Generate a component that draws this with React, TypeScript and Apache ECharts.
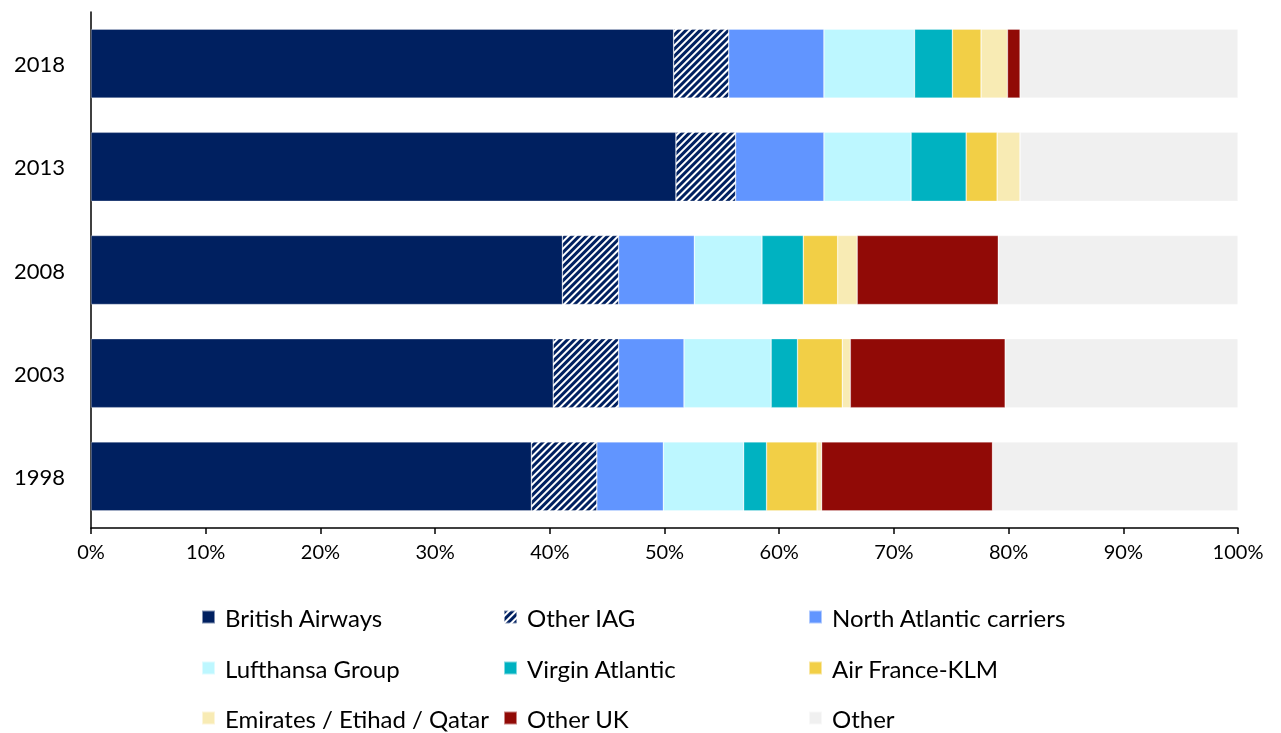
import React, { useEffect, useRef } from "react";
import * as echarts from "echarts";

const years = ["1998", "2003", "2008", "2013", "2018"];
const seriesNames = [
  "British Airways",
  "Other IAG",
  "North Atlantic carriers",
  "Lufthansa Group",
  "Virgin Atlantic",
  "Air France-KLM",
  "Emirates / Etihad / Qatar",
  "Other UK",
  "Other",
];
const britishAirways = [38.4, 40.3, 41.1, 51.0, 50.8];
const otherIAG = [5.7, 5.7, 4.9, 5.2, 4.8];
const northAtlantic = [5.8, 5.7, 6.6, 7.7, 8.3];
const lufthansa = [7.0, 7.6, 5.9, 7.6, 7.9];
const virgin = [2.0, 2.3, 3.6, 4.8, 3.3];
const airFrance = [4.4, 3.9, 3.0, 2.7, 2.5];
const gulf = [0.4, 0.7, 1.7, 2.0, 2.3];
const otherUK = [14.9, 13.5, 12.3, 0, 1.1];
const other = [21.4, 20.3, 20.9, 19.0, 19.0];

const colors = [
  "#002060",
  "#ffffff",
  "#6195FF",
  "#BDF7FF",
  "#00B2C1",
  "#F2CF46",
  "#F8EBB4",
  "#910A06",
  "#F0F0F0",
];

const FONT = "Lato, 'Open Sans', sans-serif";

export default function App() {
  const ref = useRef<HTMLDivElement>(null);
  useEffect(() => {
    if (!ref.current) return;
    const chart = echarts.init(ref.current, undefined, { renderer: "svg" });
    const values = [
      britishAirways,
      otherIAG,
      northAtlantic,
      lufthansa,
      virgin,
      airFrance,
      gulf,
      otherUK,
      other,
    ];
    const series = seriesNames.map((name, i) => ({
      name,
      type: "bar",
      stack: "total",
      barWidth: 69,
      data: values[i],
      itemStyle:
        i === 1
          ? {
              color: "#ffffff",
              borderColor: "rgba(255,255,255,0.5)",
              borderWidth: 0.6,
              decal: {
                symbol: "rect",
                symbolSize: 1,
                dashArrayX: [1, 0],
                dashArrayY: [2.4, 1.8],
                rotation: -Math.PI / 4,
                color: "#002060",
              },
            }
          : {
              color: colors[i],
              borderColor: "rgba(255,255,255,0.5)",
              borderWidth: 0.6,
            },
    }));
    const colLeft = [201, 503, 808];
    const rowCenter = [617, 668, 718];
    const legends = seriesNames.map((name, i) => ({
      left: colLeft[i % 3],
      top: rowCenter[Math.floor(i / 3)] - 12,
      data: [name],
      orient: "horizontal",
      itemWidth: 13,
      itemHeight: 13,
      icon: "rect",
      padding: 0,
      selectedMode: false,
      textStyle: {
        fontFamily: FONT,
        fontSize: 24,
        color: "#000",
        lineHeight: 24,
        padding: [0, 0, 0, 5],
      },
    }));
    chart.setOption({
      animation: false,
      grid: { left: 91, right: 43, top: 12, bottom: 205, containLabel: false },
      xAxis: {
        type: "value",
        min: 0,
        max: 100,
        interval: 10,
        axisLine: { show: true, lineStyle: { color: "#000", width: 1.5 } },
        axisTick: { show: true, length: 6, lineStyle: { color: "#000", width: 1.5 } },
        splitLine: { show: false },
        axisLabel: {
          formatter: (v: number) => `${v}%`,
          fontFamily: FONT,
          fontSize: 20,
          color: "#000",
          margin: 13,
        },
      },
      yAxis: {
        type: "category",
        data: years,
        axisLine: { show: true, lineStyle: { color: "#000", width: 1.5 } },
        axisTick: { show: false },
        axisLabel: {
          fontFamily: FONT,
          fontSize: 22,
          color: "#000",
          margin: 26,
        },
      },
      legend: legends,
      series,
    });
    return () => chart.dispose();
  }, []);
  return (
    <div
      ref={ref}
      style={{ position: "fixed", left: 0, top: 0, width: 1281, height: 733 }}
    />
  );
}
